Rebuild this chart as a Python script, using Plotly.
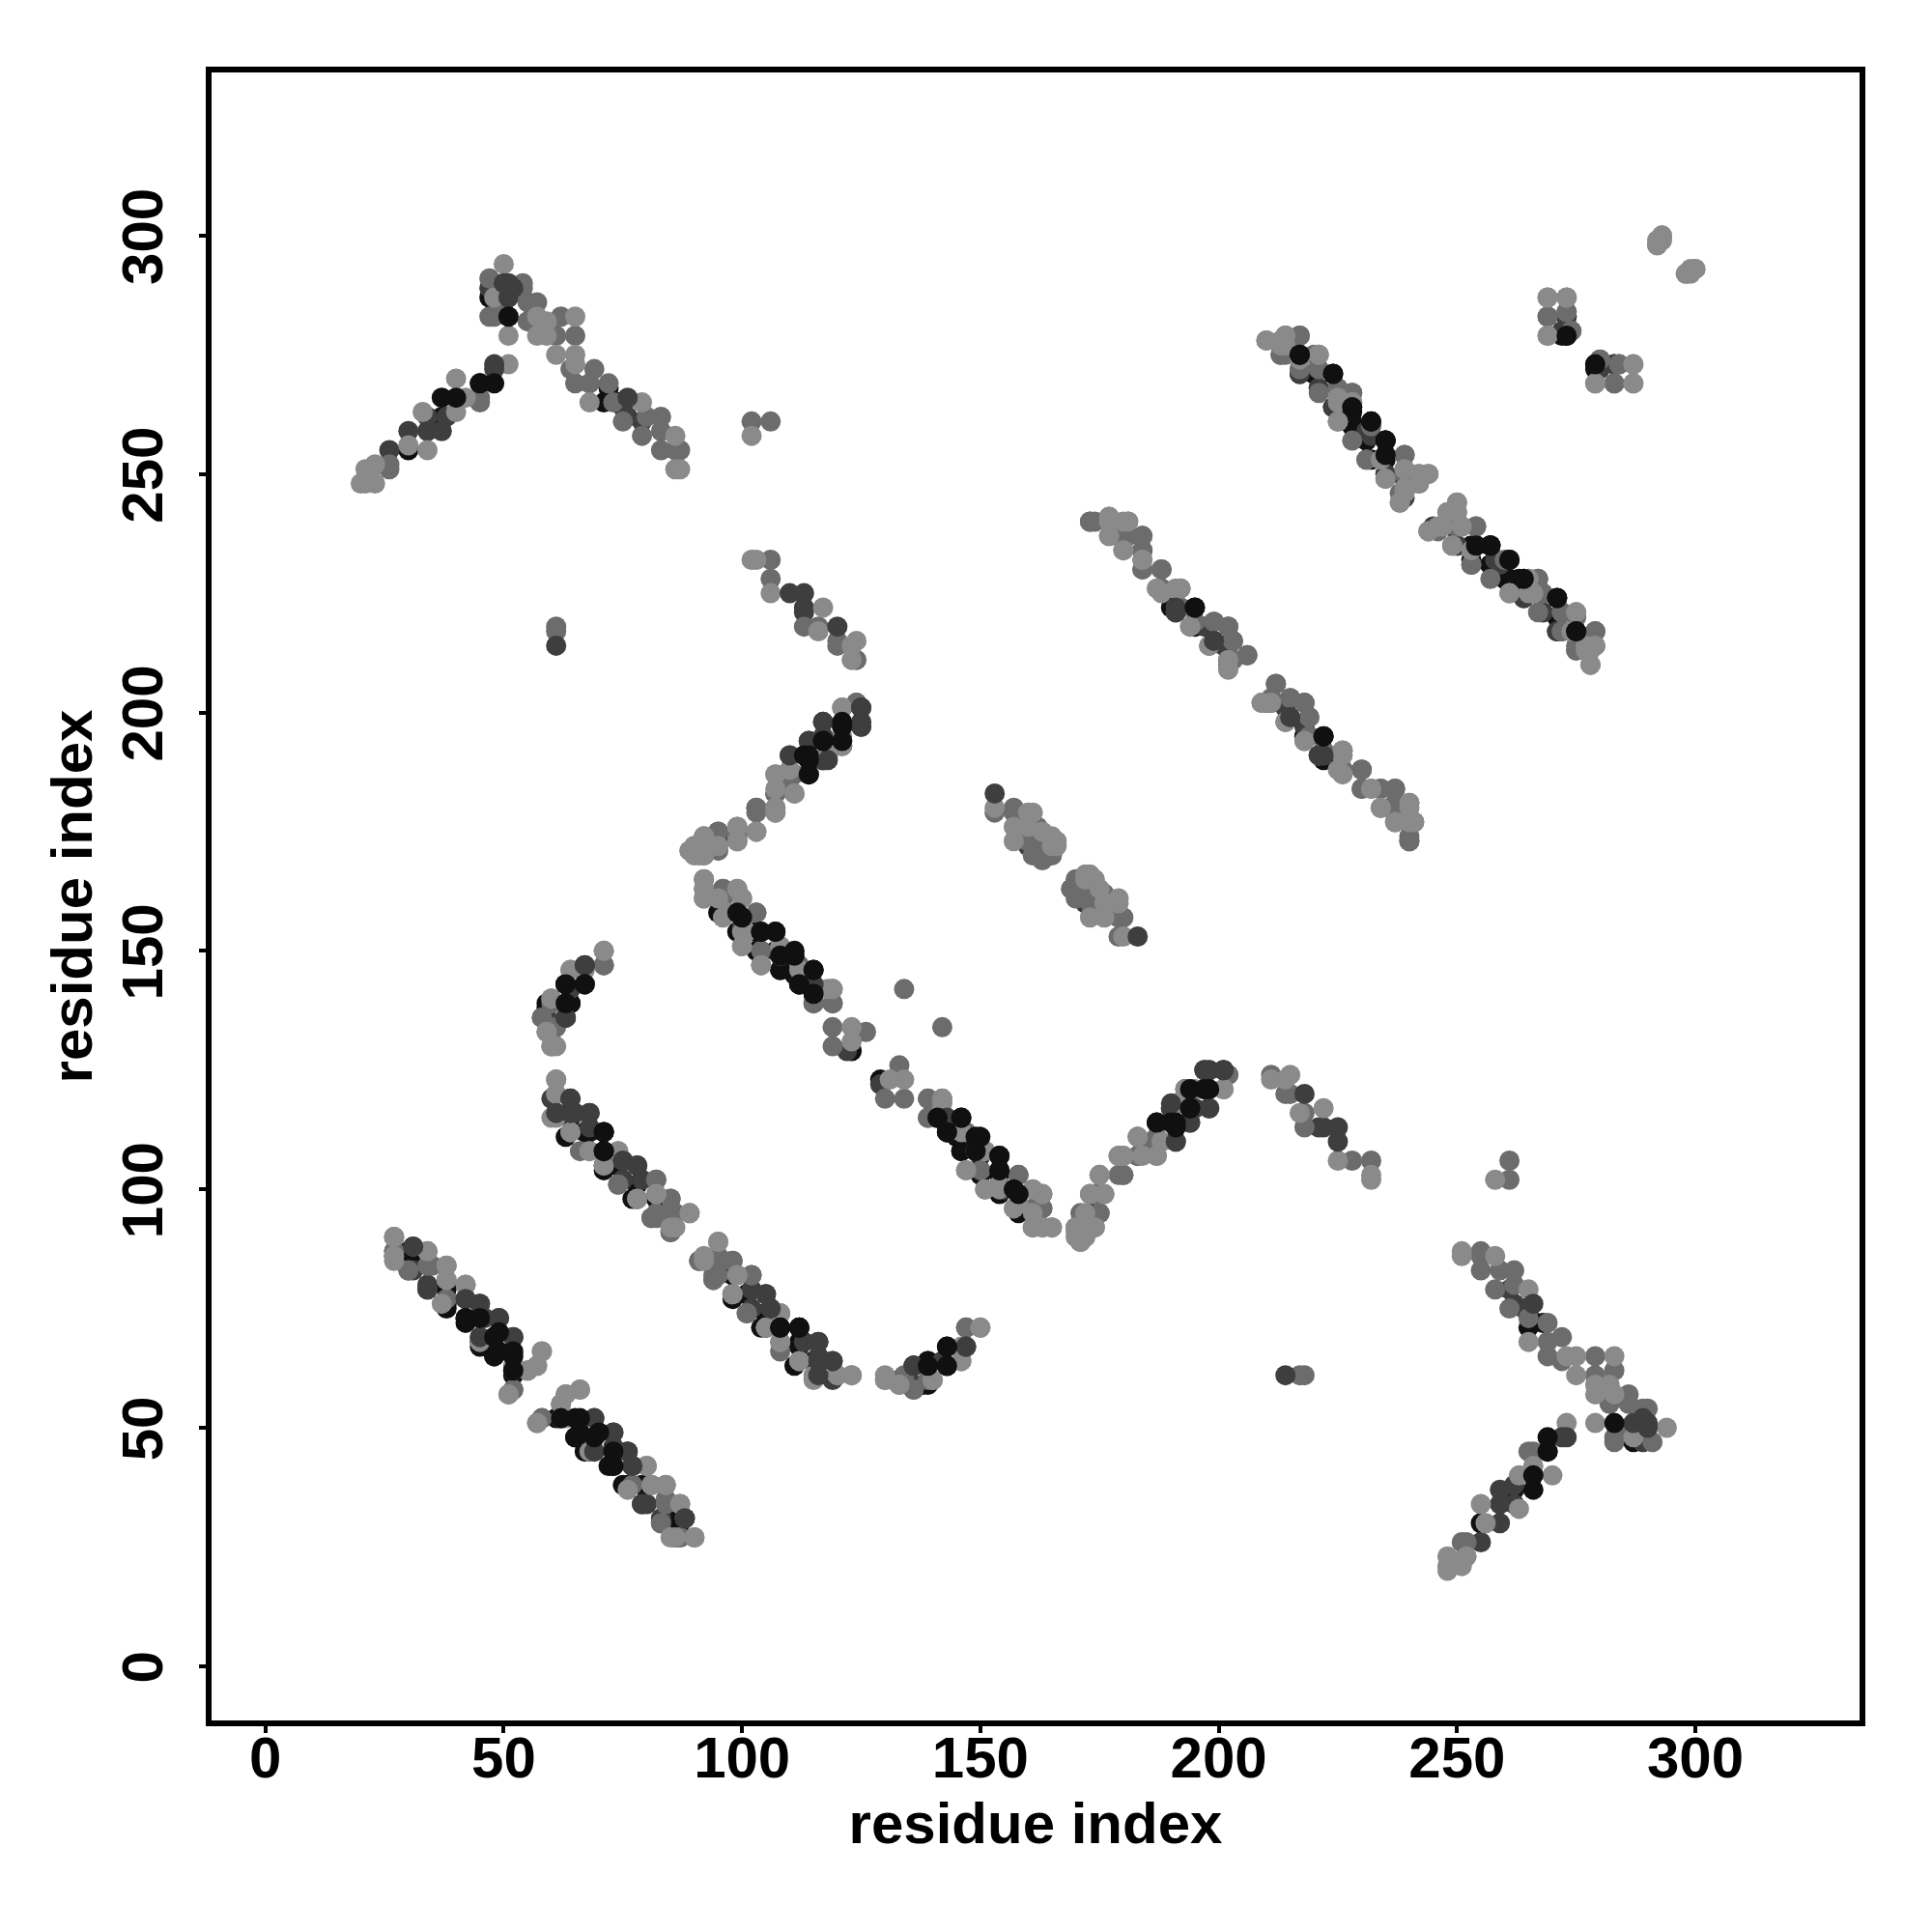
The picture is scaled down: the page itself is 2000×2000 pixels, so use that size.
import plotly.graph_objects as go

# contacts (i, j) with i < j; the map is symmetric
black_under = [(37,266),(45,269),(37,262),(30,255),(72,268),(71,265),(74,265),(47,287),
 (217,271),(220,271),(228,263),(228,260),(231,257),(235,257),(231,259),(228,264),
 (253,235),(254,235),(257,231),(257,235),(260,228),(261,228),(264,224),(253,232),(271,220),
 (272,279),(279,273),(109,186),(117,194),(121,193),(117,190),(121,197),(187,114),
 (63,143),(59,138),(60,133),(64,139),(96,158),(99,154),(103,154),(103,150),(108,146),(111,146),(108,149),(115,141),(123,129),
 (64,115),(63,111),(67,112),(71,104),(74,105),(78,101),(78,98),(82,98),(98,77),(101,78),(105,74),(105,71),(112,68),(112,71),(115,64),
 (27,86),(31,86),(38,79),(38,75),(42,72),(45,67),(48,69),(52,61),(48,65),(62,52),(65,48),(68,45),(76,38),(80,38),(87,30),(139,59),(134,60),(141,115),(145,111),(146,108),(150,107),(150,104),(155,100),(158,95),(191,221),(195,218),(218,195),(222,190),(143,63),(139,64)]
dark_under = [(30,259),(34,262),(34,259),(37,259),(38,262),(26,255),(75,264),(76,262),(79,261),(47,289),(48,290),
 (221,268),(224,264),(231,259),(235,250),(239,249),(239,245),(250,235),(258,232),(268,221),(271,217),(273,283),(280,272),(283,273),
 (113,222),(113,221),(125,197),(117,190),(197,218),(199,215),(201,214),(202,211),(214,202),(215,199),(222,191),(237,179),
 (64,142),(59,136),(112,143),(115,142),(122,129),(61,116),(60,119),(65,116),(75,102),(79,102),(102,75),(106,75),
 (31,83),(34,80),(42,77),(46,73),(79,34),(83,30),(136,59),(136,63),(143,112),(155,100),(95,173),(107,183),(187,110),(159,174),(160,172),(161,173),(162,175)]
mid = [(47,291),(54,290),(54,289),(55,286),(57,286),(47,283),(48,283),(62,283),(55,282),(61,279),(65,279),(64,272),(65,269),
 (69,272),(68,269),(72,269),(73,265),(45,266),(45,265),(75,261),(80,262),(79,258),(83,262),(83,259),(83,255),(87,255),(86,255),(26,251),(26,252),
 (102,261),(106,261),(217,279),(214,275),(213,275),(221,272),(217,272),(220,275),(225,268),(228,267),(231,253),(239,254),(239,251),(235,249),
 (246,238),(250,239),(254,239),(253,231),(260,232),(257,228),(267,228),(268,225),(267,221),(272,221),(272,217),(279,217),(275,213),(279,214),
 (269,283),(273,284),(274,280),(280,274),(284,273),(283,269),(106,232),(106,228),(113,218),(116,218),(120,215),(120,214),(124,211),
 (124,202),(125,198),(110,191),(110,187),(111,187),(121,194),(103,180),(103,179),(99,174),(95,175),(95,171),
 (173,240),(177,241),(177,240),(180,237),(181,237),(184,237),(184,234),(184,230),(188,230),(188,226),(192,222),(195,219),(199,219),(202,218),(203,215),(206,212),(203,211),
 (212,206),(210,202),(215,203),(218,202),(214,198),(219,199),(219,195),(222,192),(226,188),(230,188),(230,184),(234,184),(237,184),(237,180),(240,181),(240,174),(240,173),
 (153,179),(157,180),(157,179),(159,176),(160,173),(161,176),(162,176),(161,170),(163,169),(163,172),(162,174),(164,173),(164,171),(165,170),
 (71,147),(60,139),(63,136),(58,136),(61,134),(96,163),(103,158),(119,142),(112,147),(104,150),(115,139),(119,139),(119,134),(126,133),(119,130),(134,142),
 (61,120),(71,105),(74,101),(82,102),(85,98),(82,94),(81,94),(86,95),(85,91),(91,85),(95,85),(98,85),(95,82),(94,81),(102,82),(101,74),(108,66),
 (139,119),(139,115),(158,103),(161,96),(163,96),(165,92),(171,89),(175,95),(180,103),(184,110),(183,107),(202,124),(147,71),
 (27,87),(31,88),(30,83),(35,84),(45,69),(52,58),(62,55),(58,52),(77,38),(84,34),(87,34),(87,27),(90,27),(136,58),(50,286),
 (61,218),(61,217)]
light = [(50,294),(48,287),(51,279),(65,283),(57,283),(59,282),(57,279),(59,279),(61,275),(65,275),(65,273),(68,265),(79,265),(86,258),(86,251),(87,251),
 (51,273),(40,270),(42,266),(40,263),(33,263),(34,255),(30,256),(23,252),(21,251),(23,248),(21,248),(20,248),(22,250),
 (102,258),(210,278),(214,279),(213,278),(214,277),(221,275),(225,266),(228,265),(225,261),(234,253),(244,250),(242,250),(242,248),(239,246),(238,244),
 (250,244),(250,242),(248,242),(244,238),(247,239),(251,239),(249,235),(265,228),(261,225),(265,225),(275,221),(274,217),(277,213),(278,210),
 (269,287),(273,287),(269,279),(287,273),(279,269),(287,269),(293,300),(293,299),(292,298),(298,292),(300,293),(299,292),
 (102,232),(103,232),(106,225),(117,222),(116,217),(124,215),(123,214),(123,211),(121,201),(118,191),(107,187),(107,184),(111,183),(107,180),(107,179),
 (99,176),(99,173),(103,175),(92,174),(90,172),(89,171),(91,170),(92,170),
 (181,240),(180,240),(177,237),(180,234),(184,232),(187,226),(192,226),(191,226),(194,218),(198,214),(202,209),
 (209,202),(211,202),(218,194),(221,191),(226,192),(225,188),(232,184),(234,180),(237,177),(241,177),(240,177),
 (153,180),(157,176),(157,173),(160,179),(161,179),(163,175),(165,174),(166,173),(165,172),(166,172),(160,176),
 (71,150),(64,146),(60,140),(59,133),(60,130),(61,130),(92,165),(92,163),(92,161),(95,161),(99,163),(100,161),(97,158),(100,154),(101,154),(100,151),(108,151),(104,147),(118,142),(123,134),(123,131),
 (61,123),(60,115),(64,112),(68,108),(74,108),(78,98),(82,99),(86,92),(89,95),(95,89),(92,85),(99,82),(98,78),(108,74),(105,71),(108,68),(112,64),(120,61),(123,61),(115,61),
 (142,119),(146,112),(149,108),(151,108),(147,104),(151,100),(161,100),(163,99),(157,96),(161,92),(163,92),
 (170,92),(170,90),(172,90),(174,92),(172,95),(173,99),(176,99),(175,103),(180,107),(179,107),(183,111),(187,107),(188,110),(191,118),(193,121),(195,121),(201,121),
 (150,71),(146,67),(146,64),(140,60),(130,60),(133,59),
 (27,90),(27,85),(34,87),(38,84),(38,81),(37,76),(42,80),(45,68),(52,62),(58,66),(57,63),(55,62),(51,57),(66,58),(63,57),(57,51),(63,52),(80,42),(81,38),(84,38),(86,27)]
dark_top = [(48,273),(48,272),(76,266),(51,287),(50,290),(52,289),(51,290),(120,218),(110,225),(113,225),(125,201),(117,198),(114,194),
 (199,215),(222,191),(153,183),(61,214),
 (67,147),(63,136),(64,119),(68,116),(68,113),(75,106),(78,105),(105,78),(116,68),(116,64),(119,64),(116,61),(73,49),(76,45),(77,42),(69,45),(88,31),(69,52),(197,125),(198,125),(201,125),(194,114),(198,117),(191,110),(195,117),(190,118),(143,115),(143,112),(147,67),(136,63),(79,34),
 (52,69),(49,73),(45,76),(191,221)]
black_top = [(51,283),(48,269),(45,269),(40,266),(217,275),(224,271),(232,261),(235,257),(235,254),(257,235),(261,232),(264,228),(271,224),(275,217),(273,279),
 (121,197),(117,194),(113,191),(114,187),(195,222),(222,195),
 (67,143),(100,157),(104,154),(107,154),(111,150),(108,149),(115,146),(115,141),(112,143),
 (71,112),(71,108),(108,71),(112,71),
 (146,115),(149,111),(154,107),(154,104),(158,99),(190,114),(191,114),(194,117),(194,121),(198,121),
 (42,73),(49,70),(49,66),(52,65),(66,52),(62,52),(69,48),(73,45),(73,42),(143,67),(143,63),(139,63)]

tick_values = [0, 50, 100, 150, 200, 250, 300]
axis_title = "residue index"
layers = [(black_under, "#101010"), (dark_under, "#3e3e3e"), (mid, "#6c6c6c"),
          (light, "#8a8a8a"), (dark_top, "#3e3e3e"), (black_top, "#101010")]

fig = go.Figure()
for pairs, colour in layers:
    i_vals = [p[0] for p in pairs]
    j_vals = [p[1] for p in pairs]
    fig.add_trace(go.Scatter(x=i_vals + j_vals, y=j_vals + i_vals, mode="markers",
                             marker=dict(size=21, color=colour, line=dict(width=0)),
                             showlegend=False, hoverinfo="skip"))

tick_font = dict(family="Liberation Sans", size=60, color="black", weight="bold")
title_font = dict(family="Liberation Sans", size=60, color="black", weight="bold")
axis = dict(tickvals=tick_values, ticks="outside", ticklen=7, tickwidth=4,
            tickcolor="black", showgrid=False, zeroline=False, showline=True, mirror=True,
            linewidth=6, linecolor="black", tickfont=tick_font, title=dict(text=axis_title, font=title_font))
fig.update_xaxes(**axis, range=[-11.3, 334.45], ticklabelstandoff=-26)
fig.update_yaxes(**axis, range=[-11.38, 334.2], tickangle=-90, ticklabelstandoff=14, ticklabelshift=10)
fig.update_xaxes(title_standoff=16)
fig.update_yaxes(title_standoff=1)
fig.update_layout(width=2000, height=2000, autosize=False, plot_bgcolor="white", paper_bgcolor="white",
                  margin=dict(l=210.5, r=82.5, t=67, b=226.8, autoexpand=False))
fig.write_html("out.html")
